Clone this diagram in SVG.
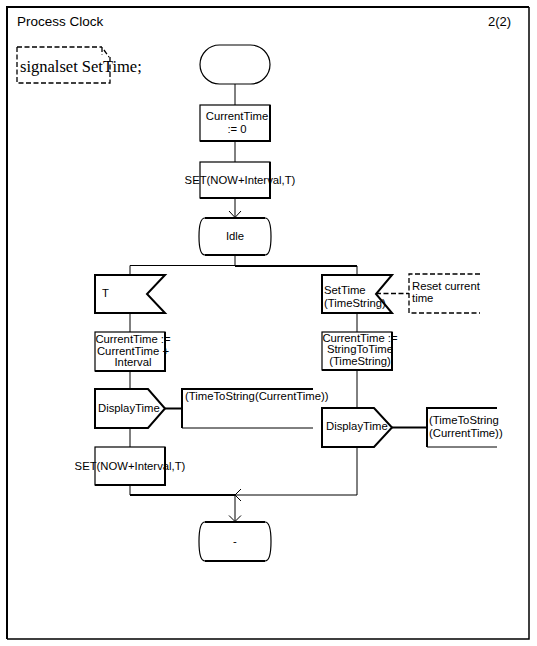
<svg xmlns="http://www.w3.org/2000/svg" width="537" height="646" viewBox="0 0 537 646">
<style>
.t{font-family:"Liberation Sans",Arial,sans-serif;font-size:11.3px;fill:#000}
.c{text-anchor:middle}
.s{fill:#fff;stroke:#000;stroke-width:1.2}
.th{fill:#fff;stroke:#000;stroke-width:2}
.sh{fill:none;stroke:#000;stroke-width:2}
.ln{fill:none;stroke:#000;stroke-width:1}
.dash{fill:none;stroke:#000;stroke-width:1.3;stroke-dasharray:5,2.5}
</style>
<rect width="537" height="646" fill="#fff"/>
<g id="frame">
<path d="M7,639 V7 H529" fill="none" stroke="#000" stroke-width="2"/>
<path d="M529,7 V639 H7" fill="none" stroke="#000" stroke-width="1.5"/>
<text class="t" x="17" y="26" style="font-size:13.5px">Process Clock</text>
<text class="t" x="488" y="26" style="font-size:13px">2(2)</text>
</g>
<g id="signalset">
<path class="dash" d="M17,47 H102 M102,47 V55 M104,50 L109,57 M110,57 V83 H17 V47"/>
<text x="20" y="72" style="font-family:'Liberation Serif','Times New Roman',serif;font-size:16.5px">signalset SetTime;</text>
</g>
<g id="connectors">
<path class="ln" d="M235,84 V105 M235,141 V162 M235,198 V218 M235,255 V265.5 M130,265.5 H235 M130,265.5 V275 M357,266 V275"/>
<path class="sh" d="M235,266 H357"/>
<path class="ln" d="M229,211 L235,217.5 L241,211"/>
<path class="ln" d="M130,313 V332 M130,371 V389 M130,428 V447 M130,485 V495"/>
<path class="ln" d="M357,313 V332 M357,371 V408 M357,447 V495 H235"/>
<path class="sh" d="M130,495 H235"/>
<path class="ln" d="M241,489 L235,495 L241,501"/>
<path class="ln" d="M235,495 V522 M229,515.5 L235,521.5 L241,515.5"/>
<path class="sh" d="M165,408.5 H182 M392,427.5 H427"/>
<path class="dash" d="M376,293.5 H409"/>
</g>
<g id="start">
<rect class="s" x="200" y="45" width="70" height="39" rx="19.5" stroke-width="1.5"/>
</g>
<g id="task1">
<rect class="s" x="200" y="105" width="70" height="36"/>
<path class="sh" d="M270,105 V141 H200"/>
<text class="t c" x="237" y="120">CurrentTime</text>
<text class="t c" x="237" y="133">:= 0</text>
</g>
<g id="task2">
<rect class="s" x="200" y="162" width="70" height="36"/>
<path class="sh" d="M270,162 V198 H200"/>
<text class="t c" x="240" y="184">SET(NOW+Interval,T)</text>
</g>
<g id="idle">
<path class="s" d="M205,218 H265 Q271,218 271,236.5 Q271,255 265,255 H205 Q199,255 199,236.5 Q199,218 205,218 Z"/>
<path class="sh" d="M205,218 H265 M205,255 H265"/>
<text class="t c" x="235" y="240">Idle</text>
</g>
<g id="inputT">
<polygon class="th" points="95,275 165,275 147,294 165,313 95,313"/>
<text class="t" x="102" y="297">T</text>
</g>
<g id="inputSetTime">
<polygon class="th" points="322,275 392,275 376,294 392,313 322,313"/>
<text class="t" x="324" y="294">SetTime</text>
<text class="t" x="324" y="307">(TimeString)</text>
</g>
<g id="comment">
<path class="dash" d="M480,274 H409 V313 H480"/>
<text class="t" x="412" y="290">Reset current</text>
<text class="t" x="412" y="302">time</text>
</g>
<g id="task3">
<rect class="s" x="95" y="332" width="70" height="39"/>
<path class="sh" d="M165,332 V371 H95"/>
<text class="t c" x="133" y="343">CurrentTime :=</text>
<text class="t c" x="133" y="354.5">CurrentTime +</text>
<text class="t c" x="133" y="366">Interval</text>
</g>
<g id="task4">
<rect class="s" x="322" y="332" width="70" height="38"/>
<path class="sh" d="M392,332 V370 H322"/>
<text class="t c" x="360" y="342">CurrentTime :=</text>
<text class="t c" x="360" y="353">StringToTime</text>
<text class="t c" x="360" y="364.5">(TimeString)</text>
</g>
<g id="output1">
<polygon class="th" points="95,389 148,389 165,408.5 148,428 95,428"/>
<text class="t" x="98" y="412">DisplayTime</text>
<path class="ln" d="M313,428 H182 V389"/>
<path class="sh" d="M182,428 V389 H313"/>
<text class="t" x="185" y="400">(TimeToString(CurrentTime))</text>
</g>
<g id="output2">
<polygon class="th" points="322,408 374,408 392,427.5 374,447 322,447"/>
<text class="t" x="326" y="430">DisplayTime</text>
<path class="ln" d="M497,447 H427"/>
<path class="sh" d="M427,447 V408 H497"/>
<text class="t" x="429" y="424">(TimeToString</text>
<text class="t" x="429" y="437">(CurrentTime))</text>
</g>
<g id="task5">
<rect class="s" x="95" y="447" width="70" height="38"/>
<path class="sh" d="M165,447 V485 H95"/>
<text class="t c" x="130" y="470">SET(NOW+Interval,T)</text>
</g>
<g id="final">
<path class="s" d="M205,522 H265 Q271,522 271,541.5 Q271,561 265,561 H205 Q199,561 199,541.5 Q199,522 205,522 Z"/>
<path class="sh" d="M205,522 H265 M205,561 H265"/>
<text class="t c" x="235" y="545">-</text>
</g>
</svg>
